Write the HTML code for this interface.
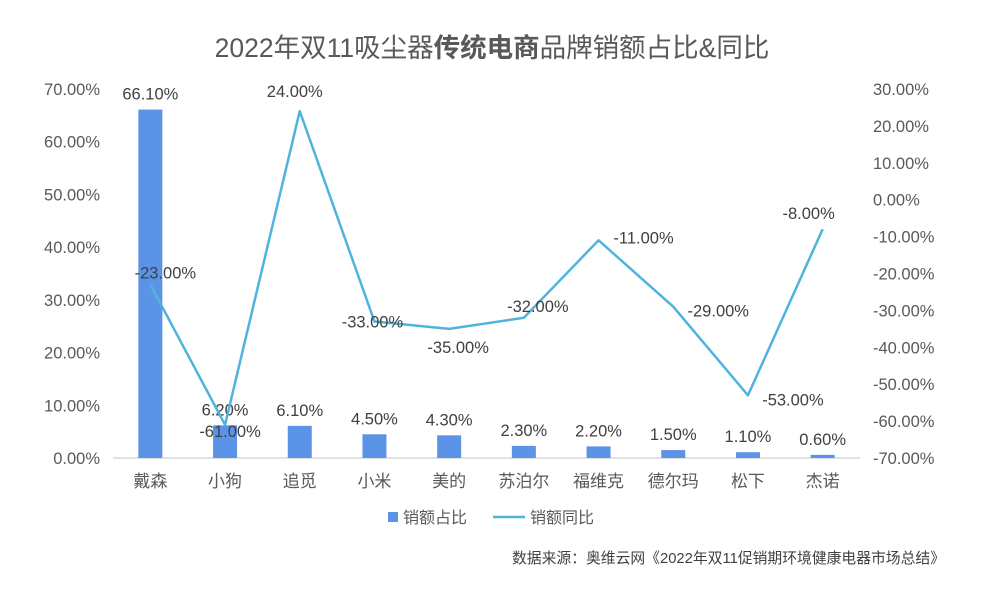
<!DOCTYPE html>
<html><head><meta charset="utf-8"><style>
body{margin:0;background:#fff;}
svg text{font-family:"Liberation Sans","Noto Sans CJK SC",sans-serif;}
</style></head><body>
<svg width="992" height="588" xmlns="http://www.w3.org/2000/svg">
<text x="492" y="57" text-anchor="middle" font-size="26.5" fill="#595959">2022年双11吸尘器<tspan font-weight="bold">传统电商</tspan>品牌销额占比&amp;同比</text>
<line x1="113" y1="458" x2="860" y2="458" stroke="#d9d9d9" stroke-width="1.5"/>
<g id="g"></g>
<g>
<rect x="388" y="512" width="10" height="10" fill="#5b93e6"/>
<text x="403" y="523" font-size="16" fill="#595959">销额占比</text>
<line x1="493" y1="517" x2="525" y2="517" stroke="#4fb4dd" stroke-width="2.5"/>
<text x="530" y="523" font-size="16" fill="#595959">销额同比</text>
</g>
<text x="945" y="563" text-anchor="end" font-size="14.8" fill="#404040">数据来源：奥维云网《2022年双11促销期环境健康电器市场总结》</text>
</svg>
<script>
const categories=["戴森","小狗","追觅","小米","美的","苏泊尔","福维克","德尔玛","松下","杰诺"];
const shareValues=[66.1,6.2,6.1,4.5,4.3,2.3,2.2,1.5,1.1,0.6];
const yoyValues=[-23,-61,24,-33,-35,-32,-11,-29,-53,-8];
const leftTicks=[0,10,20,30,40,50,60,70];
const rightTicks=[30,20,10,0,-10,-20,-30,-40,-50,-60,-70];
const yoyLabelOffsets=[[15,-12],[5,6],[-5,-20],[-2,0],[9,18],[14,-12],[45,-3],[45,4],[45,4],[-14,-16]];
const NS="http://www.w3.org/2000/svg";
const g=document.getElementById('g');
const x0=113,x1=860,yTop=89,yBot=458;
const step=(x1-x0)/categories.length;
const xs=i=>x0+step*(i+0.5);
const yL=v=>yBot-(v/70)*(yBot-yTop);
const yR=v=>yTop+(30-v)/100*(yBot-yTop);
function mk(tag,attrs,txt){const e=document.createElementNS(NS,tag);for(const k in attrs)e.setAttribute(k,attrs[k]);if(txt!==undefined)e.textContent=txt;g.appendChild(e);return e;}
leftTicks.forEach(v=>{const t=mk('text',{x:100,y:yL(v)+6,'text-anchor':'end','font-size':16.5,fill:'#595959'},v.toFixed(2)+'%');

});
rightTicks.forEach(v=>{const t=mk('text',{x:873,y:yR(v)+6,'font-size':16.5,fill:'#595959'},v.toFixed(2)+'%');

});
categories.forEach((c,i)=>{const t=mk('text',{x:xs(i),y:487,'text-anchor':'middle','font-size':17,fill:'#595959'},c);

});
shareValues.forEach((v,i)=>{const r=mk('rect',{x:xs(i)-12,y:yL(v),width:24,height:yBot-yL(v),fill:'#5b93e6'});


const t=mk('text',{x:xs(i),y:yL(v)-10,'text-anchor':'middle','font-size':16.5,fill:'#404040'},v.toFixed(2)+'%');

});
const pts=yoyValues.map((v,i)=>xs(i)+','+yR(v)).join(' ');
const pl=mk('polyline',{points:pts,fill:'none',stroke:'#4fb4dd','stroke-width':2.5,'stroke-linejoin':'round'});


yoyValues.forEach((v,i)=>{const o=yoyLabelOffsets[i];
const t=mk('text',{x:xs(i)+o[0],y:yR(v)+o[1]+6,'text-anchor':'middle','font-size':16.5,fill:'#404040'},v.toFixed(2)+'%');

});
</script>
</body></html>
